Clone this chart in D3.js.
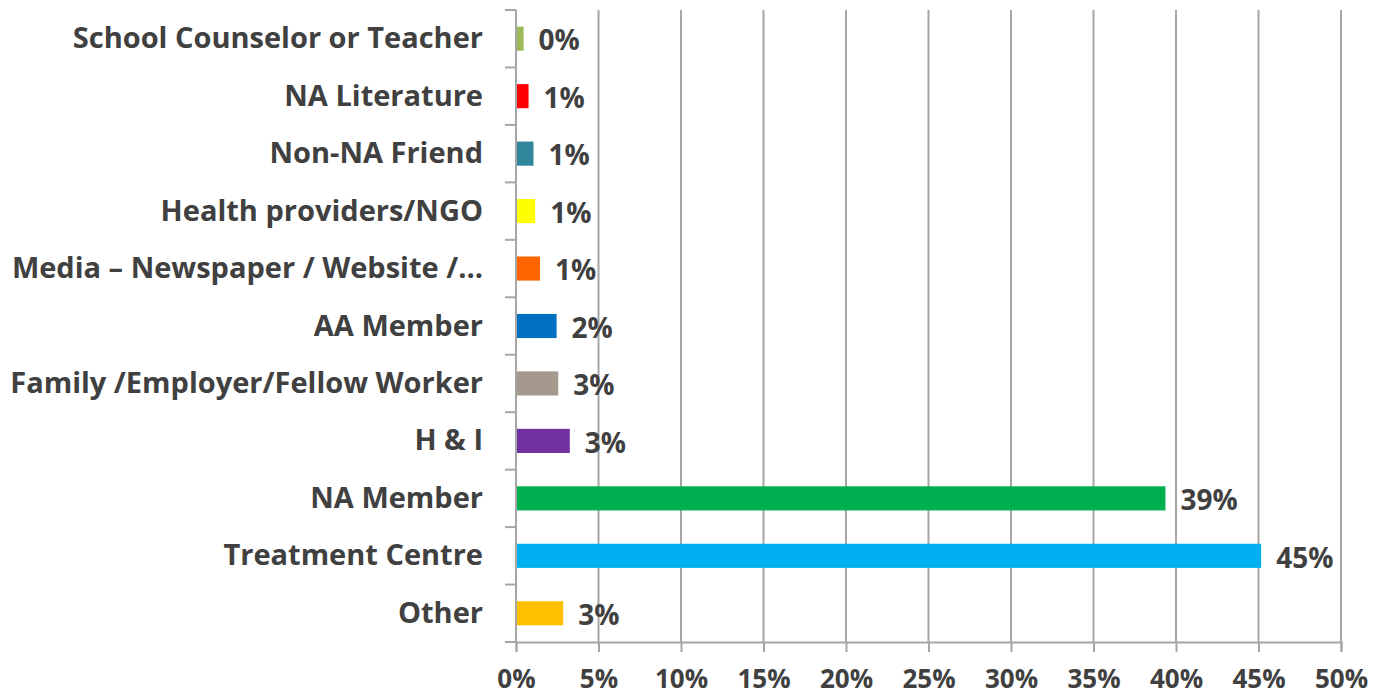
<!DOCTYPE html>
<html>
<head>
	<title>Referral sources</title>
	<script src="https://cdn.jsdelivr.net/npm/d3@7"></script>
	<style>
		body { margin: 0; background: #fff; }
		text { font-family: "Open Sans", sans-serif; font-weight: bold; fill: #404040; }
	</style>
</head>
<body>
<script type="text/javascript">
	// data, top to bottom as in the chart
	var categories = ["School Counselor or Teacher", "NA Literature", "Non-NA Friend", "Health providers/NGO",
		"Media \u2013 Newspaper / Website /\u2026", "AA Member", "Family /Employer/Fellow Worker", "H & I",
		"NA Member", "Treatment Centre", "Other"];
	var values = [0.4, 0.7, 1.0, 1.1, 1.4, 2.4, 2.5, 3.2, 39.3, 45.1, 2.8];
	var labels = ["0%", "1%", "1%", "1%", "1%", "2%", "3%", "3%", "39%", "45%", "3%"];
	var colors = ["#9bbb59", "#ff0000", "#31859c", "#ffff00", "#ff6600", "#0070c0", "#a5998d", "#7030a0",
		"#00b050", "#00b0f0", "#ffc000"];
	var xTicks = [0, 5, 10, 15, 20, 25, 30, 35, 40, 45, 50];

	var svgWidth = 1373, svgHeight = 696;
	var margin = {top: 10, right: 32, bottom: 54, left: 516};
	var w = svgWidth - margin.left - margin.right,
	    h = svgHeight - margin.top - margin.bottom;

	var svg = d3.select("body").append("svg")
		.attr("width", svgWidth)
		.attr("height", svgHeight);

	var g = svg.append("g")
		.attr("transform", "translate(" + margin.left + "," + margin.top + ")");

	var x = d3.scaleLinear().domain([0, 50]).range([0, w]);
	var y = d3.scaleBand().domain(categories).range([0, h]).paddingInner(0.58).paddingOuter(0.29);

	// vertical gridlines
	g.selectAll(".grid")
		.data(xTicks.slice(1))
		.enter().append("line")
		.attr("x1", function(d) { return x(d); })
		.attr("x2", function(d) { return x(d); })
		.attr("y1", 0).attr("y2", h)
		.attr("stroke", "#a6a6a6").attr("stroke-width", 2);

	// x axis
	var xAxis = g.append("g")
		.attr("transform", "translate(0," + h + ")")
		.call(d3.axisBottom(x).tickValues(xTicks).tickFormat(function(d) { return d + "%"; }).tickSize(10).tickPadding(18));
	xAxis.select(".domain").attr("stroke", "#a6a6a6").attr("stroke-width", 2);
	xAxis.selectAll(".tick line").attr("stroke", "#a6a6a6").attr("stroke-width", 2);
	xAxis.selectAll(".tick text").attr("font-size", 26).attr("font-family", null).attr("fill", null);

	// y axis: line + ticks at band boundaries
	var step = h / categories.length;
	var bounds = d3.range(categories.length + 1).map(function(i) { return i * step; });
	g.append("line").attr("x1", 0).attr("x2", 0).attr("y1", 0).attr("y2", h)
		.attr("stroke", "#a6a6a6").attr("stroke-width", 2);
	g.selectAll(".ytick")
		.data(bounds)
		.enter().append("line")
		.attr("x1", -11).attr("x2", 0)
		.attr("y1", function(d) { return d; }).attr("y2", function(d) { return d; })
		.attr("stroke", "#a6a6a6").attr("stroke-width", 2);

	// category labels
	g.selectAll(".cat")
		.data(categories)
		.enter().append("text")
		.attr("x", -33)
		.attr("y", function(d) { return y(d) + y.bandwidth() / 2; })
		.attr("dy", "0.33em")
		.attr("text-anchor", "end")
		.attr("font-size", 29)
		.text(function(d) { return d; });

	// bars
	g.selectAll(".bar")
		.data(values)
		.enter().append("rect")
		.attr("x", x(0) + 1)
		.attr("y", function(d, i) { return y(categories[i]); })
		.attr("width", function(d) { return x(d) - x(0); })
		.attr("height", y.bandwidth())
		.attr("fill", function(d, i) { return colors[i]; });

	// value labels
	g.selectAll(".val")
		.data(values)
		.enter().append("text")
		.attr("x", function(d) { return x(d) + 16; })
		.attr("y", function(d, i) { return y(categories[i]) + y.bandwidth() / 2; })
		.attr("dy", "0.42em")
		.attr("font-size", 28)
		.text(function(d, i) { return labels[i]; });
</script>
</body>
</html>
